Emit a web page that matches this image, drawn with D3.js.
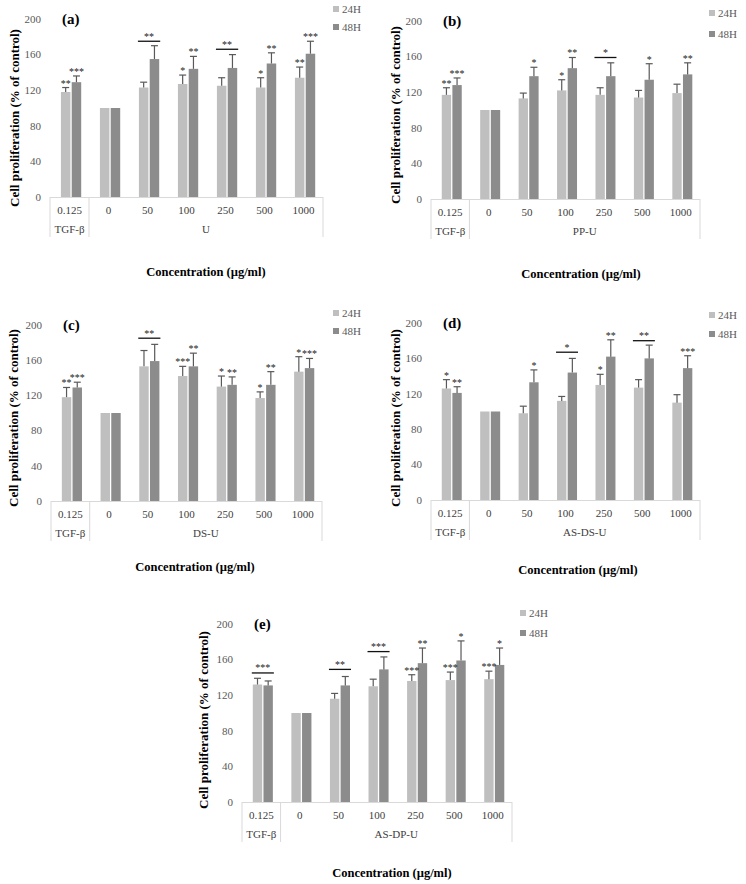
<!DOCTYPE html>
<html><head><meta charset="utf-8">
<script src="https://cdn.jsdelivr.net/npm/d3@7"></script>
<style>body{margin:0;background:#fff}</style></head>
<body><svg id="c" width="746" height="884"></svg>
<script>
// ---------- data ----------
const categories = ["0.125","0","50","100","250","500","1000"];
const groupLabels = ["U","PP-U","DS-U","AS-DS-U","AS-DP-U"];
const panelLetters = ["(a)","(b)","(c)","(d)","(e)"];
const series = ["24H","48H"];
const yTicks = [0,40,80,120,160,200];

// mean values (% of control), one row per panel a..e
const v24 = [
  [118,100,123,127,125,123,134],
  [117,100,113,122,117,114,119],
  [118,100,153,142,130,117,147],
  [126,100, 98,112,130,127,110],
  [132,100,116,130,136,137,138]
];
const e24 = [
  [5,0,6,10,9,11,12],
  [8,0,6,12,8,8,10],
  [11,0,18,11,12,7,17],
  [10,0,8,5,12,9,9],
  [7,0,6,8,7,9,9]
];
const v48 = [
  [129,100,155,144,145,150,161],
  [128,100,138,147,138,134,140],
  [129,100,159,153,132,132,151],
  [121,100,133,144,162,160,149],
  [131,100,131,149,156,159,154]
];
const e48 = [
  [7,0,15,14,15,12,14],
  [8,0,10,12,15,18,13],
  [6,0,19,15,9,15,11],
  [7,0,14,16,19,15,14],
  [5,0,10,14,17,22,19]
];
const s24 = [
  ["**","","","*","","*","**"],
  ["**","","","*","","",""],
  ["**","","","***","*","*","*"],
  ["*","","","","*","",""],
  ["","","","","***","***","***"]
];
const s48 = [
  ["***","","","**","","**","***"],
  ["***","","*","**","","*","**"],
  ["***","","","**","**","**","***"],
  ["**","","*","","**","","***"],
  ["","","","","**","*","*"]
];
// brackets spanning both bars: [categoryIndex, level, label]
const brackets = [
  [[2,175,"**"],[4,166,"**"]],
  [[4,159,"*"]],
  [[2,185,"**"]],
  [[3,167,"*"],[5,180,"**"]],
  [[0,145,"***"],[2,149,"**"],[3,169,"***"]]
];

// ---------- layout ----------
const layout = [
  {x0:50, x1:323, y0:197, y200:19,  lx:333, ly1:9,   ly2:27,  tx:206, ty:276, yx:14,  yy:118},
  {x0:431,x1:700, y0:199, y200:21,  lx:709, ly1:13,  ly2:34,  tx:581, ty:278, yx:395, yy:115},
  {x0:51, x1:322, y0:501, y200:325, lx:333, ly1:313, ly2:331, tx:195, ty:571, yx:13,  yy:418},
  {x0:431,x1:700, y0:500, y200:323, lx:709, ly1:315, ly2:334, tx:578, ty:574, yx:395, yy:418},
  {x0:242,x1:512, y0:802, y200:624, lx:520, ly1:613, ly2:633, tx:392, ty:877, yx:203, yy:720}
];
const col = {"24H":"#bfbfbf","48H":"#8c8c8c"};
const serif = "'Liberation Serif','DejaVu Serif',serif";
const svg = d3.select("#c");

layout.forEach((L,p)=>{
  const g = svg.append("g");
  const x = d3.scaleBand().domain(categories).range([L.x0,L.x1]);
  const y = d3.scaleLinear().domain([0,200]).range([L.y0,L.y200]);
  const bw = x.bandwidth();
  const xs = d3.scaleBand().domain(series).range([0.28*bw,0.8*bw]).paddingInner(0.12);

  // y tick labels
  g.selectAll(".yt").data(yTicks).join("text")
    .attr("x",L.x0-9).attr("y",d=>y(d)).attr("dy","0.35em")
    .attr("text-anchor","end").attr("font-family",serif).attr("font-size",11)
    .attr("fill","#595959").text(d=>d);

  // category axis box
  const ax = "#d9d9d9";
  g.append("line").attr("x1",L.x0).attr("x2",L.x1).attr("y1",L.y0+0.5).attr("y2",L.y0+0.5).attr("stroke",ax);
  [L.x0, x(categories[1]), L.x1].forEach(xx=>{
    g.append("line").attr("x1",xx).attr("x2",xx).attr("y1",L.y0).attr("y2",L.y0+40).attr("stroke",ax);
  });
  g.selectAll(".ct").data(categories).join("text")
    .attr("x",d=>x(d)+bw/2).attr("y",L.y0+13).attr("dy","0.35em")
    .attr("text-anchor","middle").attr("font-family",serif).attr("font-size",11)
    .attr("fill","#404040").text(d=>d);
  g.append("text").attr("x",x(categories[0])+bw/2).attr("y",L.y0+32).attr("dy","0.35em")
    .attr("text-anchor","middle").attr("font-family",serif).attr("font-size",11)
    .attr("fill","#404040").text("TGF-β");
  g.append("text").attr("x",(x(categories[1])+L.x1)/2).attr("y",L.y0+32).attr("dy","0.35em")
    .attr("text-anchor","middle").attr("font-family",serif).attr("font-size",11)
    .attr("fill","#404040").text(groupLabels[p]);

  // bars
  const rows = categories.map((c,i)=>[
    {c,s:"24H",v:v24[p][i],e:e24[p][i],st:s24[p][i]},
    {c,s:"48H",v:v48[p][i],e:e48[p][i],st:s48[p][i]}
  ]).flat();
  g.selectAll(".bar").data(rows).join("rect")
    .attr("x",d=>x(d.c)+xs(d.s)).attr("width",xs.bandwidth())
    .attr("y",d=>y(d.v)).attr("height",d=>y(0)-y(d.v)).attr("fill",d=>col[d.s]);

  // error bars
  const eb = rows.filter(d=>d.e>0);
  const cx = d=>x(d.c)+xs(d.s)+xs.bandwidth()/2;
  g.selectAll(".ev").data(eb).join("line")
    .attr("x1",cx).attr("x2",cx).attr("y1",d=>y(d.v)).attr("y2",d=>y(d.v+d.e))
    .attr("stroke","#595959").attr("stroke-width",1.2);
  g.selectAll(".ec").data(eb).join("line")
    .attr("x1",d=>cx(d)-3.5).attr("x2",d=>cx(d)+3.5).attr("y1",d=>y(d.v+d.e)).attr("y2",d=>y(d.v+d.e))
    .attr("stroke","#595959").attr("stroke-width",1.2);

  // stars
  g.selectAll(".st").data(rows.filter(d=>d.st)).join("text")
    .attr("x",cx).attr("y",d=>y(d.v+d.e)-1).attr("text-anchor","middle")
    .attr("font-family",serif).attr("font-size",10).attr("fill","#222").text(d=>d.st);

  // brackets
  brackets[p].forEach(([ci,lv,lab])=>{
    const c = categories[ci];
    const xa = x(c)+xs("24H"), xb = x(c)+xs("48H")+xs.bandwidth();
    g.append("line").attr("x1",xa-1).attr("x2",xb+1).attr("y1",y(lv)).attr("y2",y(lv))
      .attr("stroke","#111").attr("stroke-width",1.3);
    g.append("text").attr("x",(xa+xb)/2).attr("y",y(lv)-1.5).attr("text-anchor","middle")
      .attr("font-family",serif).attr("font-size",10).attr("fill","#222").text(lab);
  });

  // panel letter
  g.append("text").attr("x",L.x0+12).attr("y",L.y200).attr("dy","0.35em")
    .attr("font-family",serif).attr("font-weight","bold").attr("font-size",15)
    .attr("fill","#000").text(panelLetters[p]);

  // legend
  [[series[0],L.ly1],[series[1],L.ly2]].forEach(([s,ly])=>{
    g.append("rect").attr("x",L.lx).attr("y",ly-3).attr("width",6).attr("height",6).attr("fill",col[s]);
    g.append("text").attr("x",L.lx+9).attr("y",ly).attr("dy","0.35em")
      .attr("font-family",serif).attr("font-size",11).attr("fill","#595959").text(s);
  });

  // axis titles
  g.append("text").attr("x",L.tx).attr("y",L.ty).attr("text-anchor","middle")
    .attr("font-family",serif).attr("font-weight","bold").attr("font-size",12.5)
    .attr("fill","#000").text("Concentration (µg/ml)");
  g.append("text").attr("transform",`translate(${L.yx},${L.yy}) rotate(-90)`)
    .attr("text-anchor","middle").attr("dy","0.35em")
    .attr("font-family",serif).attr("font-weight","bold").attr("font-size",13)
    .attr("fill","#000").text("Cell proliferation (% of control)");
});
</script></body></html>
